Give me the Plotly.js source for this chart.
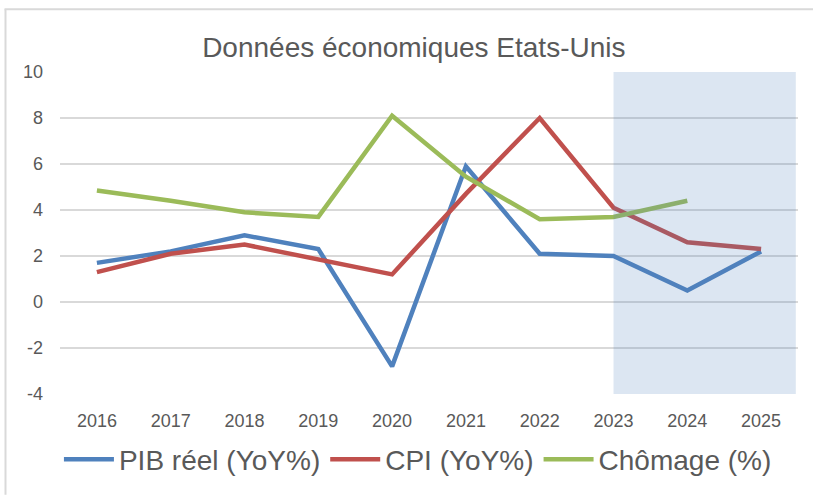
<!DOCTYPE html>
<html>
<head>
<meta charset="utf-8">
<script src="https://cdn.plot.ly/plotly-3.0.1.min.js"></script>
<style>
  html, body { margin: 0; padding: 0; background: #ffffff; }
  #chart { width: 813px; height: 495px; }
</style>
</head>
<body>
<div id="chart"></div>
<script>
const years = ['2016', '2017', '2018', '2019', '2020', '2021', '2022', '2023', '2024', '2025'];
const pibReel = [1.7, 2.2, 2.9, 2.3, -2.8, 5.9, 2.1, 2.0, 0.5, 2.2];
const cpi = [1.3, 2.1, 2.5, 1.85, 1.2, 4.7, 8.0, 4.1, 2.6, 2.3];
const chomage = [4.85, 4.4, 3.9, 3.7, 8.1, 5.45, 3.6, 3.7, 4.4, null];
const yTicks = [-4, -2, 0, 2, 4, 6, 8, 10];
const seriesNames = ['PIB réel (YoY%)', 'CPI (YoY%)', 'Chômage (%)'];
const seriesColors = ['#4f81bd', '#c0504d', '#9bbb59'];
const titleText = 'Données économiques Etats-Unis';

const FONT = '"Liberation Sans", Arial, sans-serif';
const TXT = '#595959';

const seriesValues = [pibReel, cpi, chomage];
const traces = seriesValues.map((vals, i) => ({
  type: 'scatter',
  mode: 'lines',
  x: years,
  y: vals,
  name: seriesNames[i],
  line: { color: seriesColors[i], width: 4.5 },
  connectgaps: false
}));

const layout = {
  width: 813,
  height: 495,
  margin: { l: 60, r: 15, t: 72, b: 100, pad: 0 },
  paper_bgcolor: '#ffffff',
  plot_bgcolor: '#ffffff',
  font: { family: FONT, color: TXT },
  title: {
    text: titleText,
    font: { family: FONT, size: 28, color: TXT },
    x: 0.509, xanchor: 'center',
    y: 1 - 47 / 495, yanchor: 'middle', yref: 'container'
  },
  xaxis: {
    type: 'category',
    range: [-0.5, 9.5],
    showgrid: false,
    zeroline: false,
    showline: false,
    ticks: '',
    tickfont: { family: FONT, size: 18, color: TXT },
    ticklabelstandoff: 14,
    fixedrange: true
  },
  yaxis: {
    range: [-4, 10],
    tickvals: yTicks,
    ticktext: yTicks.map(String),
    showgrid: true,
    gridcolor: '#d9d9d9',
    gridwidth: 1.6,
    zeroline: false,
    showline: false,
    ticks: '',
    tickfont: { family: FONT, size: 18, color: TXT },
    ticklabelstandoff: 16,
    fixedrange: true
  },
  showlegend: true,
  legend: {
    orientation: 'h',
    x: 0.485, xanchor: 'center',
    y: -0.2, yanchor: 'middle',
    font: { family: FONT, size: 28, color: TXT },
    itemwidth: 50,
    bgcolor: 'rgba(0,0,0,0)'
  },
  shapes: [
    {
      type: 'rect', xref: 'x', yref: 'paper',
      x0: 7, x1: 9.47, y0: 0, y1: 1,
      fillcolor: 'rgba(79,129,189,0.2)',
      line: { width: 0 },
      layer: 'above'
    },
    {
      type: 'line', xref: 'paper', yref: 'paper',
      x0: (5.5 - 60) / 738, x1: (5.5 - 60) / 738,
      y0: (395 - 496) / 323, y1: (395 - 9) / 323,
      line: { color: '#d9d9d9', width: 2 }
    },
    {
      type: 'line', xref: 'paper', yref: 'paper',
      x0: (4.5 - 60) / 738, x1: (814 - 60) / 738,
      y0: (395 - 9) / 323, y1: (395 - 9) / 323,
      line: { color: '#d9d9d9', width: 2 }
    }
  ],
  hovermode: false
};

Plotly.newPlot('chart', traces, layout, { displayModeBar: false, staticPlot: true });
</script>
</body>
</html>
